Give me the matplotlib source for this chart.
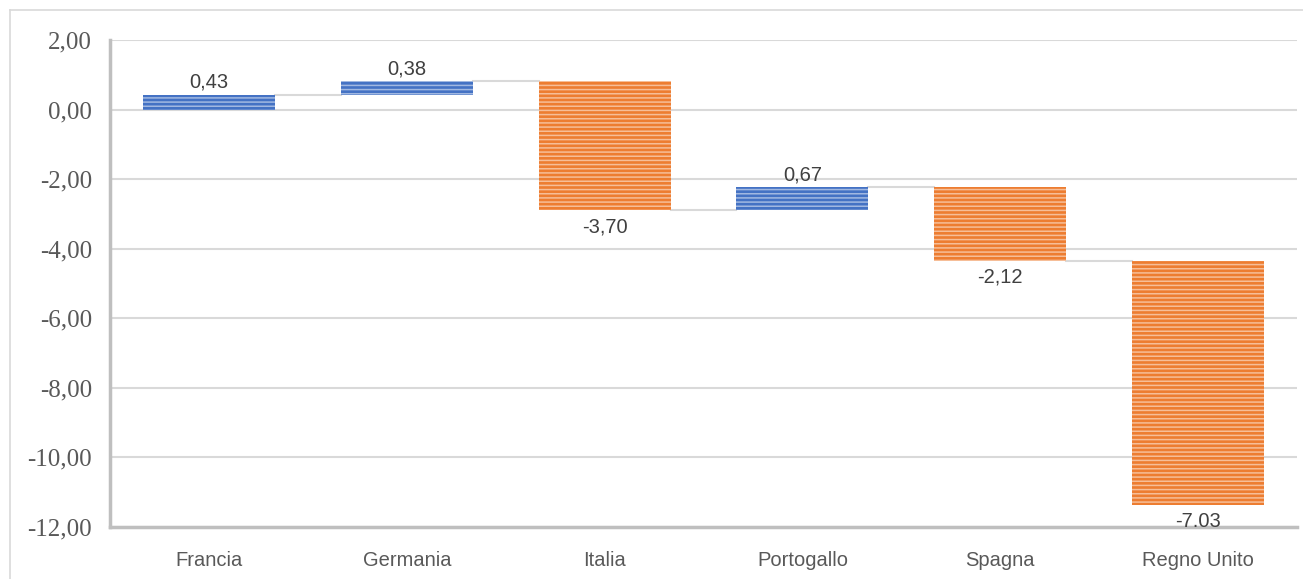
import numpy as np
import matplotlib.pyplot as plt
from matplotlib.lines import Line2D

categorie = ["Francia", "Germania", "Italia", "Portogallo", "Spagna", "Regno Unito"]
variazioni = [0.43, 0.38, -3.70, 0.67, -2.12, -7.03]
etichette = ["0,43", "0,38", "-3,70", "0,67", "-2,12", "-7.03"]
yticks = [2, 0, -2, -4, -6, -8, -10, -12]
ytick_labels = ["2,00", "0,00", "-2,00", "-4,00", "-6,00", "-8,00", "-10,00", "-12,00"]

BLU = "#4472C4"
ARANCIO = "#ED7D31"
GRIGIO = "#D9D9D9"


def main():
    fig = plt.figure(figsize=(13.03, 5.79), dpi=100)
    ax = fig.add_axes([110 / 1303, 1 - 527 / 579, 1187 / 1303, 487 / 579])

    x = np.arange(len(categorie))
    fine = np.cumsum(variazioni)
    inizio = fine - np.array(variazioni)
    larghezza = 0.667

    # barre con righe orizzontali chiare
    plt.rcParams["hatch.color"] = (1, 1, 1, 0.5)
    plt.rcParams["hatch.linewidth"] = 1.1
    for i, v in enumerate(variazioni):
        colore = BLU if v >= 0 else ARANCIO
        ax.bar(x[i], v, bottom=inizio[i], width=larghezza, color=colore,
               linewidth=0, hatch="----", zorder=3)

    # linee di collegamento
    for i in range(len(variazioni) - 1):
        ax.plot([x[i] + larghezza / 2, x[i + 1] - larghezza / 2], [fine[i], fine[i]],
                color=GRIGIO, lw=1.5, zorder=2)

    # etichette dei valori
    for i, v in enumerate(variazioni):
        if v >= 0:
            ax.annotate(etichette[i], (x[i], fine[i]), xytext=(0, 2), textcoords="offset points",
                        ha="center", va="bottom", fontsize=14.5, color="#404040",
                        family="Liberation Sans", zorder=4)
        else:
            ax.annotate(etichette[i], (x[i], fine[i]), xytext=(0, -5), textcoords="offset points",
                        ha="center", va="top", fontsize=14.5, color="#404040",
                        family="Liberation Sans", zorder=4)

    ax.set_xlim(-0.5, len(categorie) - 0.5)
    ax.set_ylim(-12, 2)
    ax.set_yticks(yticks)
    ax.set_yticklabels(ytick_labels, family="Liberation Serif", fontsize=18, color="#595959")
    ax.set_xticks(x)
    ax.set_xticklabels(categorie, family="Liberation Sans", fontsize=14.5, color="#595959")
    ax.tick_params(axis="y", length=0, pad=13)
    ax.tick_params(axis="x", length=0, pad=17)

    ax.grid(axis="y", color=GRIGIO, lw=1.5, zorder=0)
    ax.set_axisbelow(True)
    for s in ["top", "right"]:
        ax.spines[s].set_visible(False)
    for s in ["left", "bottom"]:
        ax.spines[s].set_color("#BFBFBF")
        ax.spines[s].set_linewidth(2.5)

    # bordo del grafico
    fig.add_artist(Line2D([10 / 1303, 10 / 1303], [0, 1 - 10 / 579], color=GRIGIO, lw=1.2,
                          transform=fig.transFigure))
    fig.add_artist(Line2D([10 / 1303, 1], [1 - 10 / 579, 1 - 10 / 579], color=GRIGIO, lw=1.2,
                          transform=fig.transFigure))

    fig.savefig("out.png", dpi=100)


if __name__ == "__main__":
    main()
